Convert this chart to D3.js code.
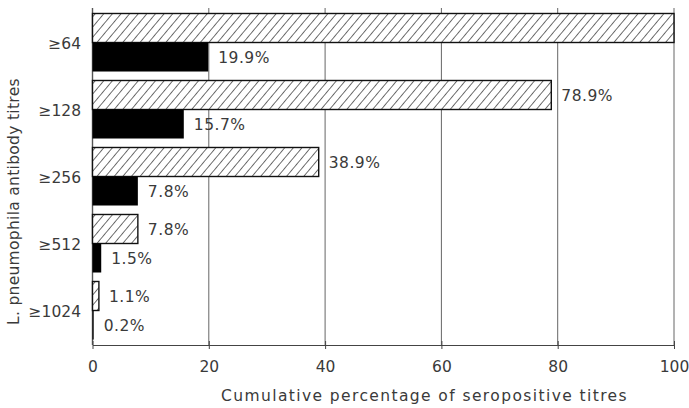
<!DOCTYPE html>
<html>
<head>
<meta charset="utf-8">
<script src="https://cdn.jsdelivr.net/npm/d3@7"></script>
<style>
  html, body { margin: 0; padding: 0; background: #fff; }
  svg { display: block; }
  text { font-family: "DejaVu Sans", sans-serif; fill: #3a3a3a; }
</style>
</head>
<body>
<svg id="chart" width="689" height="408"></svg>
<script>
// Titre thresholds and cumulative percentages of seropositive sera
const titres = ["≥64", "≥128", "≥256", "≥512", "≥1024"];
const hatchedValues = [100, 78.9, 38.9, 7.8, 1.1];
const solidValues = [19.9, 15.7, 7.8, 1.5, 0.2];
const xTicks = [0, 20, 40, 60, 80, 100];
const xTitle = "Cumulative percentage of seropositive titres";
const yTitle = "L. pneumophila antibody titres";

const svg = d3.select("#chart");
const plotLeft = 92.5, plotRight = 674, plotTop = 8, plotBottom = 345;

const x = d3.scaleLinear().domain([0, 100]).range([plotLeft, plotRight]);
const y = d3.scaleBand().domain(titres).range([plotTop, plotBottom])
  .paddingInner(0.134).paddingOuter(0.082);
const sub = d3.scaleBand().domain(["hatched", "solid"]).range([0, y.bandwidth()]);

// diagonal hatch pattern
const defs = svg.append("defs");
const pat = defs.append("pattern")
  .attr("id", "hatch")
  .attr("patternUnits", "userSpaceOnUse")
  .attr("width", 6.6).attr("height", 6.6)
  .attr("patternTransform", "rotate(40)");
pat.append("rect").attr("width", 6.6).attr("height", 6.6).attr("fill", "#fff");
pat.append("line").attr("x1", 0).attr("y1", 0).attr("x2", 0).attr("y2", 6.6)
  .attr("stroke", "#222").attr("stroke-width", 1.3);

// vertical grid lines
svg.append("g")
  .selectAll("line")
  .data(xTicks)
  .join("line")
  .attr("x1", d => x(d)).attr("x2", d => x(d))
  .attr("y1", plotTop).attr("y2", plotBottom)
  .attr("stroke", "#555").attr("stroke-width", d => d === 0 ? 1.4 : 0.9);

// bottom axis
const xAxis = d3.axisBottom(x).tickValues(xTicks).tickSize(5).tickSizeOuter(0).tickPadding(11);
const gx = svg.append("g").attr("transform", `translate(0,${plotBottom})`).call(xAxis);
gx.select(".domain").attr("stroke", "#444").attr("stroke-width", 1.1);
gx.selectAll(".tick line").attr("stroke", "#444").attr("y1", -4).attr("y2", 4);
gx.selectAll(".tick text").attr("font-size", 15.5).attr("fill", "#3a3a3a")
  .attr("font-family", "DejaVu Sans, sans-serif");

// left category labels
svg.append("g")
  .selectAll("text")
  .data(titres)
  .join("text")
  .attr("x", 81)
  .attr("y", d => y(d) + y.bandwidth() / 2 + 2)
  .attr("text-anchor", "end")
  .attr("dominant-baseline", "middle")
  .attr("font-size", 15.5)
  .text(d => d);

// bars
const rows = titres.map((t, i) => ({ t, hatched: hatchedValues[i], solid: solidValues[i] }));
const groups = svg.append("g").selectAll("g").data(rows).join("g")
  .attr("transform", d => `translate(0,${y(d.t)})`);

groups.append("rect")
  .attr("x", x(0))
  .attr("y", sub("hatched"))
  .attr("width", d => x(d.hatched) - x(0))
  .attr("height", sub.bandwidth())
  .attr("fill", "url(#hatch)")
  .attr("stroke", "#111").attr("stroke-width", 1.4);

groups.append("rect")
  .attr("x", x(0))
  .attr("y", sub("solid"))
  .attr("width", d => x(d.solid) - x(0))
  .attr("height", sub.bandwidth())
  .attr("fill", "#000");

// value labels
const fmt = v => v.toFixed(1) + "%";
groups.filter(d => d.hatched < 100).append("text")
  .attr("x", d => x(d.hatched) + 10)
  .attr("y", sub("hatched") + sub.bandwidth() / 2 + 2)
  .attr("dominant-baseline", "middle")
  .attr("font-size", 15.5)
  .attr("letter-spacing", 0.5)
  .text(d => fmt(d.hatched));

groups.append("text")
  .attr("x", d => x(d.solid) + 10)
  .attr("y", sub("solid") + sub.bandwidth() / 2 + 2)
  .attr("dominant-baseline", "middle")
  .attr("font-size", 15.5)
  .attr("letter-spacing", 0.5)
  .text(d => fmt(d.solid));

// axis titles
svg.append("text")
  .attr("x", (218 + 631) / 2).attr("y", 396)
  .attr("text-anchor", "middle")
  .attr("dominant-baseline", "middle")
  .attr("font-size", 15.5)
  .attr("letter-spacing", 1.4)
  .text(xTitle);

svg.append("text")
  .attr("transform", "translate(14,325) rotate(-90)")
  .attr("text-anchor", "start")
  .attr("dominant-baseline", "middle")
  .attr("font-size", 15.5)
  .attr("letter-spacing", 0.3)
  .text(yTitle);
</script>
</body>
</html>
